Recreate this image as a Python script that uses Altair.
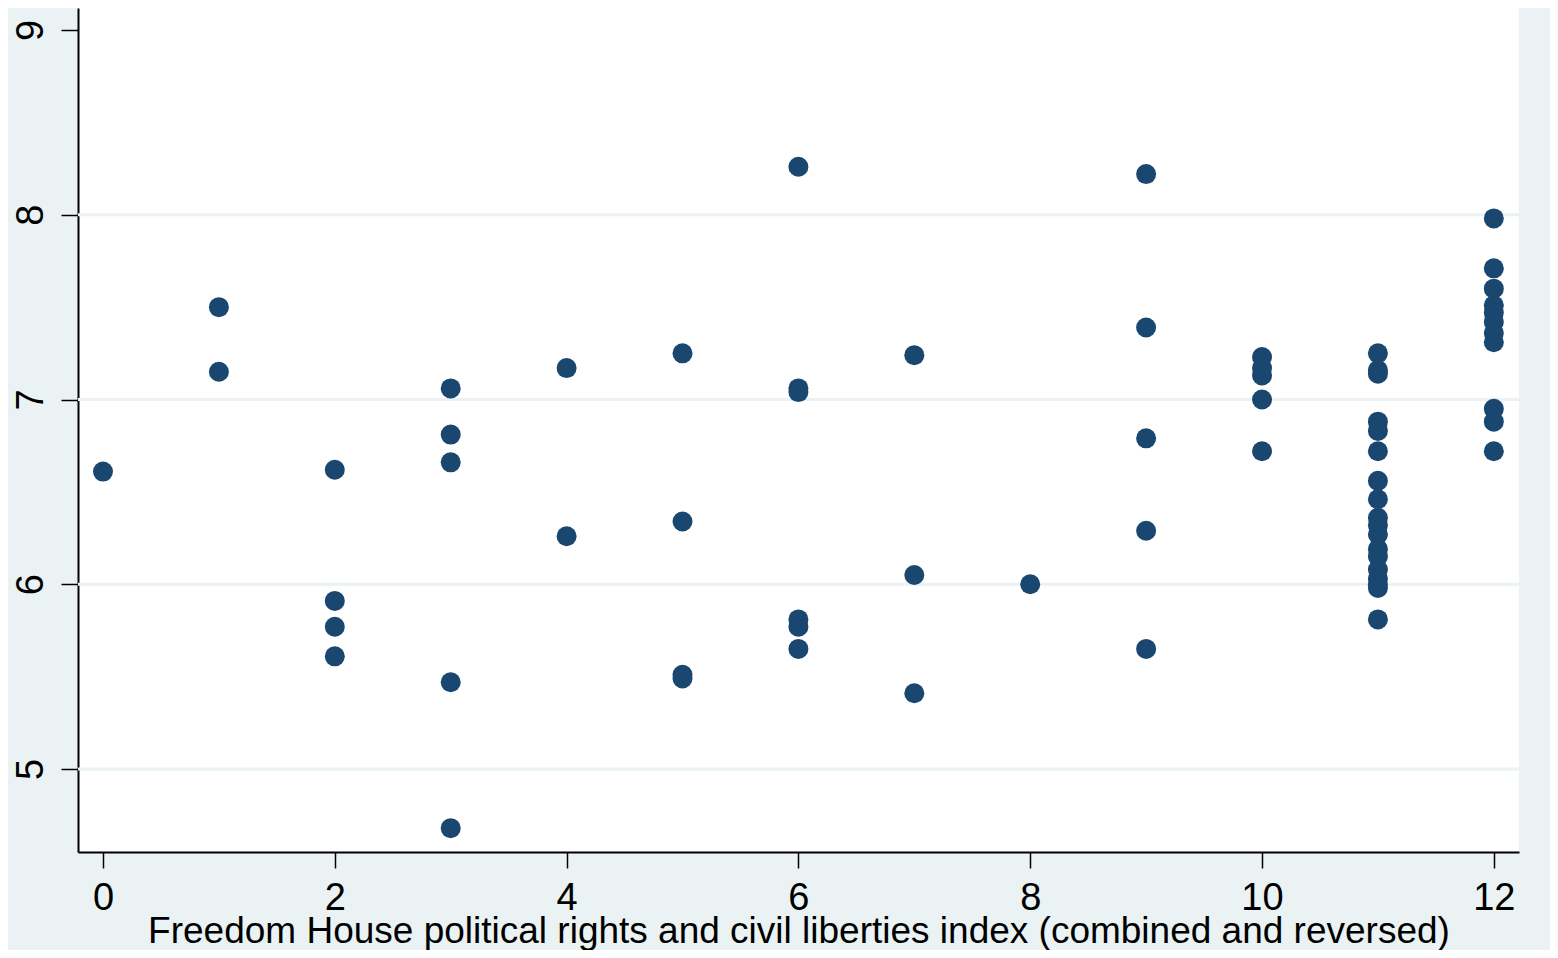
import altair as alt
import pandas as pd

# Freedom House index (x) and outcome (y)
fh_index = (
    [0]
    + [1, 1]
    + [2, 2, 2, 2]
    + [3, 3, 3, 3, 3]
    + [4, 4]
    + [5, 5, 5, 5]
    + [6, 6, 6, 6, 6, 6]
    + [7, 7, 7]
    + [8]
    + [9, 9, 9, 9, 9]
    + [10, 10, 10, 10, 10]
    + [11] * 18
    + [12] * 11
)
values = (
    [6.61]
    + [7.50, 7.15]
    + [6.62, 5.91, 5.77, 5.61]
    + [7.06, 6.81, 6.66, 5.47, 4.68]
    + [7.17, 6.26]
    + [7.25, 6.34, 5.51, 5.49]
    + [8.26, 7.06, 7.04, 5.81, 5.77, 5.65]
    + [7.24, 6.05, 5.41]
    + [6.00]
    + [8.22, 7.39, 6.79, 6.29, 5.65]
    + [7.23, 7.17, 7.13, 7.00, 6.72]
    + [7.25, 7.16, 7.14, 6.88, 6.83, 6.72, 6.56, 6.46, 6.36, 6.32,
       6.27, 6.19, 6.15, 6.08, 6.03, 6.00, 5.98, 5.81]
    + [7.98, 7.71, 7.60, 7.51, 7.47, 7.42, 7.36, 7.31, 6.95, 6.88, 6.72]
)
x_ticks = [0, 2, 4, 6, 8, 10, 12]
y_ticks = [5, 6, 7, 8, 9]
grid_values = [5, 6, 7, 8]

x_title = "Freedom House political rights and civil liberties index (combined and reversed)"

df = pd.DataFrame({"fh": fh_index, "v": values})
grid_df = pd.DataFrame({"g": grid_values})

BG = "#EAF2F3"
NAVY = "#1A476F"
FONT = "Liberation Sans"

x_scale = alt.Scale(domain=[-0.2157, 12.2173], nice=False, zero=False)
y_scale = alt.Scale(domain=[4.551, 9.119], nice=False, zero=False)

y_axis = alt.Axis(
    values=y_ticks,
    title=None,
    grid=False,
    format="d",
    labelFontSize=38,
    labelAngle=270,
    labelAlign="center",
    labelBaseline="alphabetic",
    labelPadding=19,
    tickSize=17,
)

grid = alt.Chart(grid_df).mark_rule(color=BG, strokeWidth=3).encode(
    y=alt.Y("g:Q", scale=y_scale, axis=y_axis),
)

points = alt.Chart(df).mark_circle(color=NAVY, size=400, opacity=1).encode(
    x=alt.X(
        "fh:Q",
        scale=x_scale,
        axis=alt.Axis(
            values=x_ticks,
            title=x_title,
            grid=False,
            format="d",
            labelFontSize=38,
            labelBaseline="alphabetic",
            labelPadding=41,
            tickSize=16,
            titleFontSize=37,
            titleFontWeight="normal",
            titleBaseline="alphabetic",
            titleY=90,
        ),
    ),
    y=alt.Y("v:Q", scale=y_scale, axis=y_axis),
)

chart = (
    alt.layer(grid, points)
    .properties(
        width=1441,
        height=844,
        background=BG,
        padding={"left": 70, "top": 0, "right": 31, "bottom": 98},
        autosize=alt.AutoSizeParams(type="none"),
    )
    .configure_view(fill="white", stroke=None)
    .configure_axis(
        labelFont=FONT,
        titleFont=FONT,
        labelColor="black",
        titleColor="black",
        domainColor="black",
        domainWidth=2,
        tickColor="black",
        tickWidth=1.5,
        labelOverlap=False,
        labelFlush=False,
    )
)

chart.save("out.html", embed_options={"renderer": "svg", "actions": False})
